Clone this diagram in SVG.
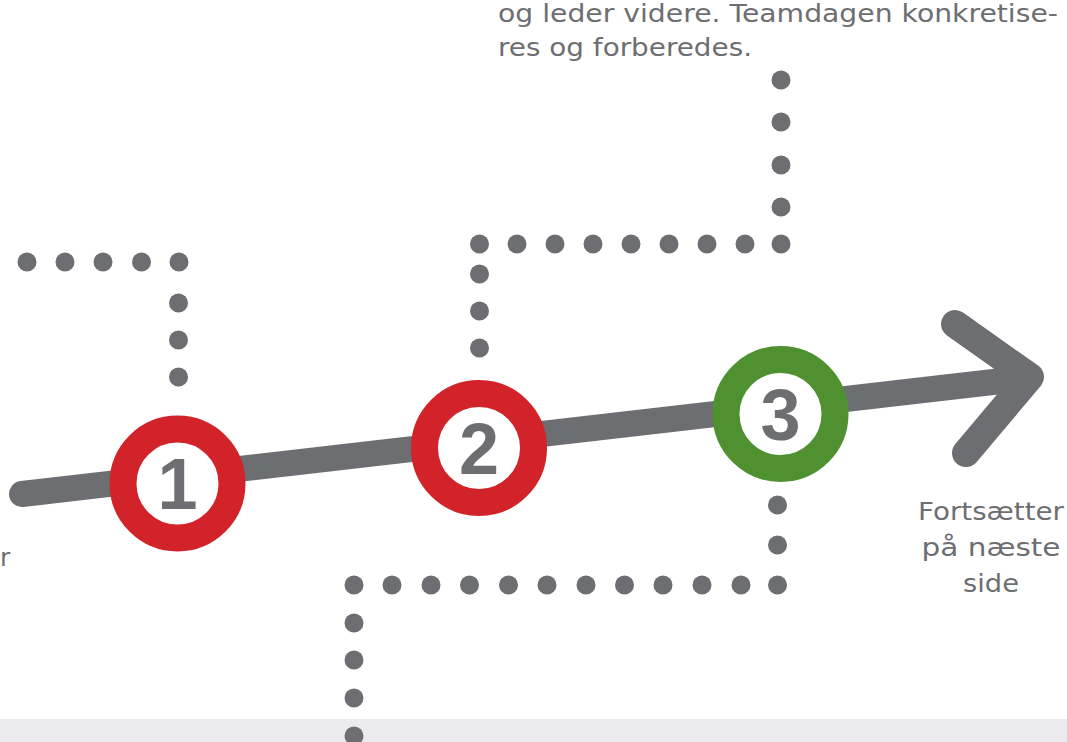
<svg xmlns="http://www.w3.org/2000/svg" width="1067" height="742" viewBox="0 0 1067 742">
  <style>
    .txt { font-family: "DejaVu Sans", "Liberation Sans", sans-serif; font-size: 25px; fill: #6d6e71; }
    .num { font-family: "Liberation Sans", Arial, sans-serif; font-size: 72px; font-weight: bold; fill: #6d6e71; text-anchor: middle; }
    .dot { fill: #6d6e71; }
    .ring { fill: #ffffff; stroke-width: 27; }
    .red { stroke: #d2232a; }
    .green { stroke: #4f9031; }
    .shaft { fill: none; stroke: #6d6e71; stroke-linecap: round; stroke-linejoin: round; }
  </style>
  <defs>
    <circle id="d" r="9.5" class="dot"/>
  </defs>
  <rect x="0" y="0" width="1067" height="742" fill="#ffffff"/>
  <rect x="0" y="719" width="1067" height="23" fill="#ebebed"/>

  <g id="text-top">
    <text class="txt" x="498" y="22" textLength="560" lengthAdjust="spacingAndGlyphs">og leder videre. Teamdagen konkretise-</text>
    <text class="txt" x="498" y="56" textLength="254" lengthAdjust="spacingAndGlyphs">res og forberedes.</text>
  </g>
  <g id="text-left">
    <text class="txt" x="0" y="566">r</text>
  </g>
  <g id="text-right">
    <text class="txt" x="991" y="520" text-anchor="middle" textLength="146" lengthAdjust="spacingAndGlyphs">Fortsætter</text>
    <text class="txt" x="991" y="556" text-anchor="middle" textLength="139" lengthAdjust="spacingAndGlyphs">på næste</text>
    <text class="txt" x="991" y="592" text-anchor="middle" textLength="56" lengthAdjust="spacingAndGlyphs">side</text>
  </g>

  <g id="connectors">
    <g id="dots-1">
      <use href="#d" x="27" y="262"/>
      <use href="#d" x="65" y="262"/>
      <use href="#d" x="103" y="262"/>
      <use href="#d" x="141.5" y="262"/>
      <use href="#d" x="179" y="262"/>
      <use href="#d" x="178.5" y="303"/>
      <use href="#d" x="178.5" y="340"/>
      <use href="#d" x="178.5" y="377"/>
    </g>
    <g id="dots-2">
      <use href="#d" x="781" y="80"/>
      <use href="#d" x="781" y="122"/>
      <use href="#d" x="781" y="165"/>
      <use href="#d" x="781" y="207"/>
      <use href="#d" x="781" y="244"/>
      <use href="#d" x="745" y="244"/>
      <use href="#d" x="707" y="244"/>
      <use href="#d" x="669" y="244"/>
      <use href="#d" x="631" y="244"/>
      <use href="#d" x="593" y="244"/>
      <use href="#d" x="555" y="244"/>
      <use href="#d" x="517" y="244"/>
      <use href="#d" x="479.5" y="244"/>
      <use href="#d" x="479.5" y="274"/>
      <use href="#d" x="479.5" y="311"/>
      <use href="#d" x="479.5" y="348"/>
    </g>
    <g id="dots-3">
      <use href="#d" x="777.5" y="505"/>
      <use href="#d" x="777.5" y="545"/>
      <use href="#d" x="777.5" y="585"/>
      <use href="#d" x="741" y="585"/>
      <use href="#d" x="702" y="585"/>
      <use href="#d" x="663" y="585"/>
      <use href="#d" x="624.5" y="585"/>
      <use href="#d" x="586" y="585"/>
      <use href="#d" x="547" y="585"/>
      <use href="#d" x="508.5" y="585"/>
      <use href="#d" x="469.5" y="585"/>
      <use href="#d" x="431" y="585"/>
      <use href="#d" x="392" y="585"/>
      <use href="#d" x="354" y="585"/>
      <use href="#d" x="354" y="623"/>
      <use href="#d" x="354" y="660"/>
      <use href="#d" x="354" y="698"/>
      <use href="#d" x="354" y="736"/>
    </g>
    <g id="arrow">
      <line class="shaft" x1="22" y1="494" x2="1028" y2="378" stroke-width="26"/>
      <polyline class="shaft" points="955,324 1030,377 966,453" stroke-width="28"/>
    </g>
  </g>

  <g id="node-1">
    <circle class="ring red" cx="177.5" cy="483.5" r="54.5"/>
    <text class="num" x="177.5" y="509">1</text>
  </g>
  <g id="node-2">
    <circle class="ring red" cx="479" cy="448" r="54.5"/>
    <text class="num" x="479" y="474">2</text>
  </g>
  <g id="node-3">
    <circle class="ring green" cx="780.5" cy="414" r="54.5"/>
    <text class="num" x="780.5" y="440">3</text>
  </g>
</svg>
